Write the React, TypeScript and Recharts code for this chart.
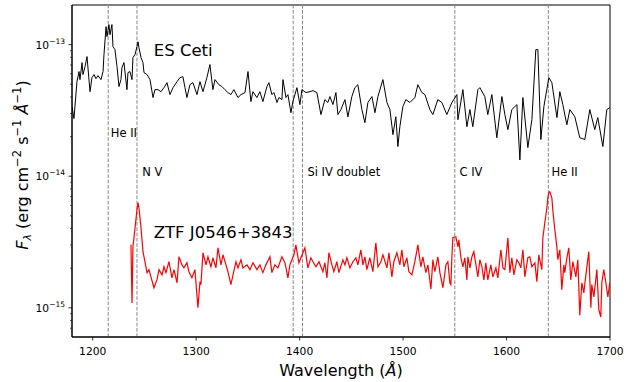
import React from 'react'
import { ComposedChart, Line, XAxis, YAxis, ReferenceLine, ReferenceDot, ReferenceArea } from 'recharts'

const FONT = '"DejaVu Sans", sans-serif'

// flux values are in units of 1e-15 erg cm^-2 s^-1 A^-1, wavelength in A
const esCeti: [number, number][] = [
  [1180, 33.8], [1181.9, 27.4], [1184.8, 52.3], [1186.8, 62.4], [1187.7, 54.2], [1189.7, 73.0], [1190.6, 59.2],
  [1192.6, 68.1], [1194.5, 81.1], [1197.4, 43.9], [1199.3, 56.1], [1201.3, 59.2], [1203.2, 55.1], [1205.1, 58.1],
  [1208.0, 54.2], [1210.0, 62.4], [1210.9, 83.9], [1212.9, 137], [1213.8, 115], [1215.7, 142], [1216.7, 119],
  [1218.6, 142], [1219.6, 96.6], [1221.5, 91.6], [1223.5, 68.1], [1225.4, 48.0], [1227.3, 54.2], [1228.3, 66.9],
  [1230.2, 73.0], [1233.1, 45.5], [1234.1, 61.3], [1236.0, 62.4], [1238.0, 54.2], [1238.9, 79.7], [1240.9, 83.9],
  [1242.8, 96.6], [1243.8, 105], [1244.7, 94.9], [1246.7, 79.7], [1248.6, 73.0], [1249.6, 61.3], [1252.5, 59.2],
  [1255.4, 54.2], [1258.3, 39.6], [1260.2, 45.5], [1263.1, 45.5], [1266.0, 43.9], [1268.9, 47.1], [1271.8, 51.4],
  [1274.7, 41.7], [1277.6, 47.1], [1281.5, 52.3], [1284.3, 56.1], [1287.2, 57.1], [1289.2, 47.1], [1291.1, 39.6],
  [1294.0, 49.6], [1296.9, 51.4], [1300.8, 41.7], [1303.7, 52.3], [1306.6, 43.9], [1310.4, 56.1], [1313.3, 70.5],
  [1316.2, 45.5], [1318.2, 54.2], [1322.0, 49.6], [1324.9, 48.0], [1327.8, 45.5], [1330.7, 43.2], [1333.6, 41.7],
  [1336.5, 45.5], [1340.4, 39.6], [1343.3, 41.7], [1347.2, 43.2], [1350.1, 62.4], [1352.9, 36.9], [1354.9, 43.9],
  [1358.7, 39.6], [1361.6, 43.9], [1364.5, 36.9], [1368.4, 48.0], [1370.3, 51.4], [1373.2, 41.7], [1375.2, 43.2],
  [1378.1, 36.3], [1380.0, 39.6], [1382.9, 38.2], [1383.9, 54.2], [1386.8, 39.6], [1388.7, 41.7], [1391.6, 30.4],
  [1393.5, 36.9], [1397.4, 47.1], [1400.3, 35.0], [1402.2, 45.5], [1406.1, 43.2], [1410.0, 43.9], [1412.9, 44.7],
  [1416.7, 43.2], [1420.6, 29.4], [1424.4, 38.2], [1427.3, 36.3], [1429.3, 40.3], [1432.2, 35.0], [1435.1, 43.2],
  [1437.0, 29.4], [1439.9, 32.1], [1443.8, 38.2], [1446.7, 28.3], [1450.5, 40.3], [1453.4, 47.1], [1456.3, 49.6],
  [1460.2, 32.1], [1463.1, 25.5], [1466.0, 36.3], [1469.9, 40.3], [1472.8, 30.4], [1475.7, 40.3], [1480.5, 54.2],
  [1484.4, 36.3], [1487.3, 32.1], [1490.2, 20.7], [1493.0, 28.3], [1495.0, 16.8], [1496.9, 23.8], [1499.8, 33.8],
  [1502.7, 38.2], [1506.6, 36.3], [1511.4, 39.6], [1514.3, 49.6], [1518.2, 43.2], [1521.1, 41.7], [1525.9, 32.1],
  [1528.8, 29.4], [1533.6, 38.2], [1537.5, 36.3], [1542.3, 29.4], [1547.2, 36.3], [1552.0, 41.7], [1553.0, 26.9],
  [1557.8, 45.5], [1561.7, 23.8], [1564.6, 32.1], [1567.4, 23.8], [1572.3, 45.5], [1574.2, 47.1], [1579.0, 40.3],
  [1581.9, 29.4], [1585.8, 41.7], [1590.6, 19.6], [1595.5, 40.3], [1598.4, 29.4], [1601.3, 22.6], [1605.1, 32.1],
  [1610.0, 35.0], [1612.9, 13.3], [1615.8, 39.6], [1620.6, 16.5], [1624.5, 26.9], [1628.3, 91.6], [1630.3, 91.6],
  [1633.2, 19.0], [1636.1, 33.8], [1640.9, 56.1], [1643.8, 51.4], [1648.7, 27.9], [1651.5, 43.9], [1654.4, 35.0],
  [1658.3, 24.6], [1661.2, 32.1], [1666.0, 28.3], [1670.8, 19.6], [1675.7, 19.0], [1680.5, 32.1], [1685.3, 22.6],
  [1688.2, 27.9], [1693.1, 16.8], [1696.9, 32.1], [1699.8, 33.2],
]

const ztf: [number, number][] = [
  [1237.0, 3.01], [1238.0, 1.09], [1238.9, 2.91], [1239.9, 3.41], [1242.8, 5.56], [1243.8, 6.29], [1244.7, 5.76],
  [1246.7, 4.06], [1248.6, 2.67], [1250.5, 2.24], [1252.5, 1.85], [1254.4, 1.95], [1256.3, 1.72], [1259.2, 1.42],
  [1262.1, 1.63], [1264.1, 1.95], [1267.0, 1.78], [1268.9, 2.05], [1270.8, 1.85], [1273.7, 2.24], [1276.6, 1.69],
  [1278.6, 1.95], [1281.5, 1.55], [1283.4, 2.44], [1286.3, 2.12], [1288.2, 2.01], [1291.1, 2.20], [1293.0, 1.88],
  [1295.9, 1.69], [1298.8, 1.95], [1301.7, 1.00], [1303.7, 1.58], [1304.6, 1.50], [1306.6, 2.62], [1309.5, 2.12],
  [1311.4, 2.44], [1314.3, 2.05], [1316.2, 2.40], [1319.1, 2.01], [1321.1, 2.86], [1324.0, 2.12], [1325.9, 2.53],
  [1328.8, 2.12], [1330.7, 1.88], [1333.6, 1.50], [1335.6, 1.78], [1338.5, 2.24], [1340.4, 2.01], [1343.3, 2.32],
  [1345.2, 2.01], [1349.1, 2.12], [1352.0, 1.95], [1354.9, 2.20], [1358.7, 1.95], [1361.6, 2.12], [1364.5, 1.85],
  [1367.4, 2.12], [1371.3, 2.44], [1373.2, 1.85], [1376.1, 2.12], [1379.0, 2.01], [1382.9, 2.44], [1385.8, 2.20],
  [1388.7, 1.69], [1390.6, 2.12], [1392.6, 2.32], [1394.5, 2.53], [1396.4, 3.01], [1399.3, 2.20], [1403.2, 2.62],
  [1405.1, 2.86], [1408.0, 2.01], [1410.9, 2.40], [1412.9, 2.24], [1415.8, 2.05], [1418.7, 2.24], [1422.5, 1.88],
  [1424.4, 2.20], [1426.4, 1.69], [1428.3, 2.62], [1431.2, 2.12], [1433.1, 1.88], [1436.0, 2.24], [1438.0, 1.85],
  [1441.8, 2.32], [1443.8, 2.12], [1445.7, 2.40], [1448.6, 2.01], [1451.5, 2.24], [1454.4, 2.40], [1456.3, 2.12],
  [1459.2, 2.76], [1461.2, 2.12], [1463.1, 2.44], [1465.0, 1.95], [1467.9, 2.40], [1470.8, 1.88], [1473.7, 3.12],
  [1475.7, 2.05], [1478.6, 2.24], [1480.5, 2.53], [1484.4, 2.01], [1486.3, 2.62], [1489.2, 1.72], [1491.1, 2.24],
  [1494.0, 2.62], [1496.9, 2.12], [1498.8, 2.76], [1500.8, 2.05], [1503.7, 2.40], [1505.6, 1.88], [1508.5, 1.78],
  [1511.4, 2.24], [1514.3, 3.01], [1517.2, 2.05], [1519.1, 2.44], [1522.0, 1.85], [1524.0, 2.12], [1526.9, 1.39],
  [1528.8, 2.32], [1530.7, 1.88], [1533.6, 2.44], [1535.6, 1.85], [1538.5, 1.42], [1541.4, 2.12], [1543.3, 2.24],
  [1545.2, 1.55], [1546.2, 1.50], [1547.2, 2.44], [1548.1, 3.41], [1551.0, 3.47], [1553.0, 2.91], [1553.9, 3.29],
  [1555.9, 2.40], [1557.8, 2.05], [1559.7, 2.40], [1561.7, 1.63], [1562.6, 2.44], [1564.6, 2.01], [1566.5, 2.44],
  [1568.4, 2.67], [1570.4, 2.12], [1572.3, 1.72], [1574.2, 2.32], [1576.2, 2.05], [1578.1, 1.63], [1580.0, 2.20],
  [1581.9, 1.63], [1584.8, 2.12], [1586.8, 1.72], [1589.7, 2.01], [1591.6, 1.69], [1594.5, 2.76], [1596.5, 2.01],
  [1598.4, 1.95], [1601.3, 3.41], [1603.2, 1.85], [1605.1, 2.40], [1607.1, 1.78], [1610.0, 2.32], [1611.9, 2.20],
  [1613.8, 2.01], [1615.8, 2.76], [1617.7, 1.72], [1620.6, 2.40], [1622.5, 2.44], [1624.5, 2.05], [1627.4, 2.20],
  [1629.3, 1.58], [1631.2, 2.53], [1634.1, 1.95], [1635.1, 3.41], [1637.0, 4.43], [1639.0, 5.76], [1639.9, 6.86],
  [1640.9, 7.49], [1641.8, 7.62], [1643.8, 6.86], [1644.7, 5.56], [1646.7, 3.92], [1648.6, 2.91], [1649.6, 2.32],
  [1651.5, 2.76], [1653.4, 1.37], [1655.4, 2.12], [1656.3, 1.85], [1658.3, 2.40], [1660.2, 2.86], [1662.1, 1.63],
  [1664.1, 2.24], [1667.0, 1.72], [1668.9, 2.32], [1670.8, 0.88], [1672.8, 1.55], [1674.7, 1.30], [1676.7, 1.78],
  [1679.5, 2.67], [1681.5, 1.00], [1682.4, 1.50], [1684.4, 1.21], [1687.3, 1.95], [1689.2, 0.97], [1691.1, 0.85],
  [1692.1, 1.55], [1694.0, 1.95], [1696.0, 1.55], [1697.9, 1.21], [1699.8, 1.55],
]

const lineWaves = [1215, 1242.8, 1393.8, 1402.8, 1550, 1640.4]
const xTicks = [1200, 1300, 1400, 1500, 1600, 1700]
const yMajor = [1, 10, 100]
const yTicks = [0.7, 0.8, 0.9, 1, 2, 3, 4, 5, 6, 7, 8, 9, 10, 20, 30, 40, 50, 60, 70, 80, 90, 100]

// text annotations: [label, wavelength, flux, font size]
const annotations: [string, number, number, number][] = [
  ['He II', 1217.5, 20, 11.5],
  ['N V', 1248, 10, 11.5],
  ['Si IV doublet', 1407.5, 10, 11.5],
  ['C IV', 1554.5, 10, 11.5],
  ['He II', 1643.5, 10, 11.5],
  ['ES Ceti', 1259, 82, 16.5],
  ['ZTF J0546+3843', 1259, 3.4, 16.5],
]

const esData = esCeti.map(([w, f]) => ({ w, f }))
const ztfData = ztf.map(([w, f]) => ({ w, f }))

function YTick(props: any) {
  const { x, y, payload } = props
  const v = payload.value
  const major = yMajor.includes(v)
  const len = major ? 3.5 : 2
  const exp = Math.round(Math.log10(v)) - 15
  return (
    <g>
      <line x1={x - len} x2={x} y1={y} y2={y} stroke="#000" strokeWidth={major ? 0.8 : 0.6} />
      {major && (
        <text x={x - 7} y={y + 4} textAnchor="end" fontSize={10.7} fontFamily={FONT} fill="#000">
          <tspan>10</tspan>
          <tspan dy={-5} fontSize={7.5}>{'\u2212' + Math.abs(exp)}</tspan>
        </text>
      )}
    </g>
  )
}

function XTick(props: any) {
  const { x, y, payload } = props
  return (
    <g>
      <line x1={x} x2={x} y1={y} y2={y + 3.5} stroke="#000" strokeWidth={0.8} />
      <text x={x} y={y + 17.5} textAnchor="middle" fontSize={10.7} fontFamily={FONT} fill="#000">
        {payload.value}
      </text>
    </g>
  )
}

function YLabel(props: any) {
  const vb = props.viewBox
  const cx = 28
  const cy = vb.y + vb.height / 2 - 6
  return (
    <text x={cx} y={cy} transform={`rotate(-90, ${cx}, ${cy})`} textAnchor="middle" fontSize={16} fontFamily={FONT} fill="#000">
      <tspan fontStyle="italic">F</tspan>
      <tspan dy={3} fontSize={11} fontStyle="italic">λ</tspan>
      <tspan dy={-3}> (erg cm</tspan>
      <tspan dy={-7} fontSize={11.5}>−2</tspan>
      <tspan dy={7}> s</tspan>
      <tspan dy={-7} fontSize={11.5}>−1</tspan>
      <tspan dy={7}> </tspan>
      <tspan fontStyle="italic">Å</tspan>
      <tspan dy={-7} fontSize={11.5}>−1</tspan>
      <tspan dy={7}>)</tspan>
    </text>
  )
}

function XLabel(props: any) {
  const vb = props.viewBox
  return (
    <text x={vb.x + vb.width / 2} y={376} textAnchor="middle" fontSize={16} fontFamily={FONT} fill="#000">
      <tspan>Wavelength (</tspan>
      <tspan fontStyle="italic">Å</tspan>
      <tspan>)</tspan>
    </text>
  )
}

export default function App() {
  return (
    <div style={{ position: 'absolute', left: 0, top: 0, background: '#fff' }}>
      <ComposedChart width={626} height={382} margin={{ top: 5, right: 16, bottom: 0, left: 0 }}>
        <XAxis
          dataKey="w"
          type="number"
          domain={[1180, 1700]}
          allowDataOverflow
          ticks={xTicks}
          interval={0}
          tickSize={0}
          tickMargin={0}
          tick={<XTick />}
          height={45}
          axisLine={{ stroke: '#000' }}
          label={<XLabel />}
        />
        <YAxis
          dataKey="f"
          scale="log"
          domain={[0.6, 200]}
          allowDataOverflow
          ticks={yTicks}
          interval={0}
          tickSize={0}
          tickMargin={0}
          tick={<YTick />}
          width={72}
          axisLine={{ stroke: '#000' }}
          label={<YLabel />}
        />
        {lineWaves.map((w) => (
          <ReferenceLine key={w} x={w} stroke="#888" strokeWidth={1} strokeDasharray="3.7 1.6" />
        ))}
        <Line data={esData} dataKey="f" type="linear" stroke="#000" strokeWidth={1} dot={false} isAnimationActive={false} />
        <Line data={ztfData} dataKey="f" type="linear" stroke="#ff0000" strokeWidth={1.2} dot={false} isAnimationActive={false} />
        {annotations.map(([text, w, f, size], i) => (
          <ReferenceDot
            key={i}
            x={w}
            y={f}
            r={0}
            fill="none"
            stroke="none"
            label={(p: any) => (
              <text x={p.viewBox.x} y={p.viewBox.y} fontSize={size} fontFamily={FONT} fill="#000">
                {text}
              </text>
            )}
          />
        ))}
        <ReferenceArea x1={1180} x2={1700} y1={0.6} y2={200} fill="none" stroke="#000" strokeWidth={1} ifOverflow="visible" />
      </ComposedChart>
    </div>
  )
}
